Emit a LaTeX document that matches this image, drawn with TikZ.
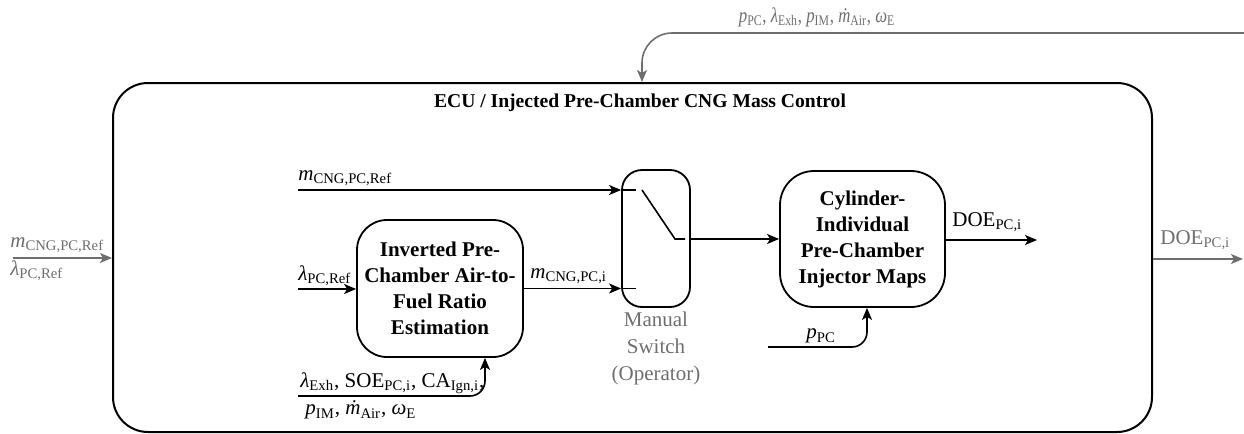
\documentclass[tikz,border=0pt]{standalone}
\usepackage{fontspec}
\setmainfont{Liberation Serif}
\usetikzlibrary{arrows.meta}

\definecolor{sig}{RGB}{110,110,110}
\newcommand{\sym}[2]{\textit{#1}\textsubscript{#2}}

\tikzset{
  block/.style = {draw, line width=0.9pt, rounded corners=15pt, align=center,
                  font=\fontsize{10.5}{13}\selectfont\bfseries, inner sep=0pt},
  wire/.style  = {line width=0.8pt, -{Stealth[length=6pt,width=5pt,inset=1.5pt]}},
  outwire/.style = {wire, sig},
  lbl/.style   = {font=\fontsize{10.5}{12}\selectfont, inner sep=0pt}
}

\begin{document}
\begin{tikzpicture}[x=0.5pt, y=-0.5pt]
\useasboundingbox (0,0) rectangle (1244,434);

% ECU frame and title
\node[draw, line width=1pt, rounded corners=17.5pt, minimum width=519.5pt, minimum height=174.5pt] (ecu) at (632.5,257.5) {};
\node[lbl, font=\fontsize{9.8}{12}\selectfont\bfseries] (title) at (640,103) {ECU / Injected Pre-Chamber CNG Mass Control};

% blocks
\node[block, minimum width=83pt, minimum height=68.5pt] (est) at (440,288.5) {Inverted Pre-\\Chamber Air-to-\\Fuel Ratio\\Estimation};
\node[block, rounded corners=10pt, minimum width=34pt, minimum height=68.5pt] (sw) at (656,238.5) {};
\node[block, rounded corners=17pt, minimum width=82.5pt, minimum height=68pt] (cyl) at (862.5,239) {Cylinder-\\Individual\\Pre-Chamber\\Injector Maps};
\node[lbl, sig, align=center, font=\fontsize{10.5}{13.5}\selectfont, anchor=north] (swlbl) at (656,312) {Manual\\Switch\\(Operator)};

% free ends
\coordinate (inL) at (13,258);
\coordinate (fb) at (1244,33);
\coordinate (mref) at (298,190);
\coordinate (lref) at (298,289);
\coordinate (ein) at (298,396);
\coordinate (ppc) at (768,347);
\coordinate (doe) at (1037,240);
\coordinate (out) at (1243,259);

% outer signals
\draw[outwire] (inL) -- (inL -| ecu.west); % input from outside
\node[lbl, sig, anchor=west] (inm) at (10,245) {\sym{m}{CNG,PC,Ref}};
\node[lbl, sig, anchor=west] (inl) at (10,271) {\sym{λ}{PC,Ref}};
\draw[outwire, rounded corners=15pt] (fb) -| ([xshift=4.75pt]ecu.north); % measured signals
\node[lbl, sig] (fblbl) at (817,17) {\scalebox{0.8}[1]{\sym{p}{PC}, \sym{λ}{Exh}, \sym{p}{IM}, \sym{\.{m}}{Air}, \sym{ω}{E}}};
\draw[outwire] (ecu.east |- out) -- (out); % output to outside
\node[lbl, sig, anchor=west] (outlbl) at (1160,240) {DOE\textsubscript{PC,i}};

% inner signals
\draw[wire] (mref) -- (mref -| sw.west); % reference mass
\node[lbl, anchor=west] (mreflbl) at (298,178) {\sym{m}{CNG,PC,Ref}};
\draw[wire] (lref) -- (lref -| est.west); % reference lambda
\node[lbl, anchor=west] (lreflbl) at (298,276) {\sym{λ}{PC,Ref}};
\draw[wire] (est.east) -- (sw.west |- est.east); % estimated mass
\node[lbl, anchor=west] (mestlbl) at (530,276) {\sym{m}{CNG,PC,i}};
\draw[wire, rounded corners=7.5pt] (ein) -| ([xshift=22.5pt]est.south); % engine signals
\node[lbl, anchor=west] (ein1) at (300,383) {\sym{λ}{Exh}, SOE\textsubscript{PC,i}, CA\textsubscript{Ign,i},};
\node[lbl, anchor=west] (ein2) at (305,410) {\sym{p}{IM}, \sym{\.{m}}{Air}, \sym{ω}{E}};

% switch contacts
\draw[line width=0.8pt] (sw.west |- mref) -- ++(15,0);
\draw[line width=0.8pt] (sw.west |- est.east) -- ++(15,0);
\draw[line width=0.8pt] (642,190) -- (675,239) -- (685,239); % blade
\draw[wire] (sw.east |- cyl.west) -- (cyl.west); % selected mass

\draw[wire, rounded corners=7.5pt] (ppc) -| ([xshift=2.25pt]cyl.south); % pre-chamber pressure
\node[lbl, anchor=west] (ppclbl) at (806,336) {\sym{p}{PC}};
\draw[wire] (cyl.east |- doe) -- (doe); % energizing duration
\node[lbl, anchor=west] (doelbl) at (952,222) {DOE\textsubscript{PC,i}};

\end{tikzpicture}
\end{document}
